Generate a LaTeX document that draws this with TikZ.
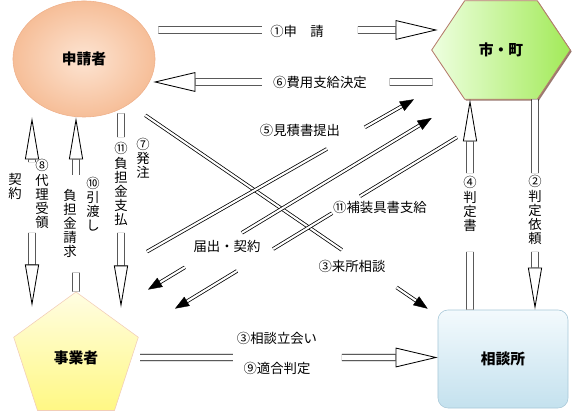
\documentclass[tikz,border=0pt]{standalone}
\usepackage{fontspec}
\setmainfont{Noto Sans CJK JP}
\usetikzlibrary{shapes.geometric,arrows.meta,calc,backgrounds,shadows}
\definecolor{peach}{HTML}{F6BE98}
\definecolor{peachhi}{HTML}{FDE4D2}
\definecolor{peachln}{HTML}{EFB08A}
\definecolor{limehi}{HTML}{EEFFE0}
\definecolor{lime}{HTML}{A2EA58}
\definecolor{limeln}{HTML}{B57C6C}
\definecolor{lemonhi}{HTML}{FFFDE2}
\definecolor{lemon}{HTML}{FFF884}
\definecolor{lemonln}{HTML}{F2CDB8}
\definecolor{skyhi}{HTML}{F3FAFD}
\definecolor{sky}{HTML}{C4E1EE}
\definecolor{skyln}{HTML}{A8C8D8}

\begin{document}
\begin{tikzpicture}[x=0.025cm,y=-0.025cm,
  title/.style={font=\bfseries\fontsize{10.5}{12}\selectfont,inner sep=0pt},
  lab/.style={font=\fontsize{9.5}{10}\selectfont,inner sep=0pt},
  tate/.style={lab,align=center},
  blk/.style={double,double distance=4pt,line width=0.6pt},
  hhead/.style={-{Triangle[open,length=30pt 0 0,width=14pt 0 0,line width=0.6pt 0 0]}},
  vhead/.style={-{Triangle[open,length=30pt 0 0,width=10pt 0 0,line width=0.6pt 0 0]}},
  dbl/.style={double,double distance=1.5pt,line width=0.55pt},
  blackhead/.style={-{Triangle[length=10pt 0 0,width=7.5pt 0 0,line width=0.3pt 0 0]}}]
\useasboundingbox (0,0) rectangle (580,411);
\node[ellipse,minimum width=3.55cm,minimum height=2.9cm,draw=peachln,inner color=peachhi,outer color=peach,title] (sq) at (84,59) {申請者};
\node[minimum width=3.45cm,minimum height=2.45cm,title] (city) at (501,50) {市・町};
\node[regular polygon,regular polygon sides=5,minimum size=3.275cm,draw=lemonln,top color=lemonhi,bottom color=lemon,title] (jg) at (76,357.5) {事業者};
\node[rectangle,rounded corners=0.25cm,minimum width=3.25cm,minimum height=2.45cm,draw=skyln,top color=skyhi,bottom color=sky,title] (sd) at (503,359) {相談所};
\begin{scope}[on background layer]
\shadedraw[draw=limeln,line width=0.6pt,left color=limehi,right color=lime,
  drop shadow={shadow xshift=1pt,shadow yshift=-1pt,fill=limeln!70!black,opacity=.8}]
  (city.west) -- ($(city.north west)+(33,0)$) -- ($(city.north east)+(-33,0)$) -- (city.east)
  -- ($(city.south east)+(-33,0)$) -- ($(city.south west)+(33,0)$) -- cycle;
\end{scope}

\node[lab] (l1) at (297,31) {①申　請};
\node[lab] (l6) at (320,82) {⑥費用支給決定};
\node[tate] (l8) at (42,194) {⑧\\代\\理\\受\\領};
\node[tate] (lk) at (15,186) {契\\約};
\node[tate] (l10) at (93,204) {⑩\\引\\渡\\し};
\node[tate] (lf) at (70,223.5) {負\\担\\金\\請\\求};
\node[tate] (l11) at (121,184) {⑪\\負\\担\\金\\支\\払};
\node[tate] (l7) at (143,158.5) {⑦\\発\\注};
\node[tate] (l4) at (470,204) {④\\判\\定\\書};
\node[tate] (l2) at (535,210) {②\\判\\定\\依\\頼};
\node[lab] (l5) at (300,130) {⑤見積書提出};
\node[lab] (lt) at (227,246) {届出・契約};
\node[lab] (lh) at (380,207) {⑪補装具書支給};
\node[lab] (l3) at (352,266) {③来所相談};
\node[lab] (l3b) at (277,338) {③相談立会い};
\node[lab] (l9) at (277,368) {⑨適合判定};

\coordinate (a1) at ($(sq.east)+(3,-29)$);
\coordinate (b1) at ($(city.west)+(6,-20)$);
\coordinate (a6) at ($(city.west)+(1,32)$);
\coordinate (b6) at ($(sq.east)+(-2,23)$);
\coordinate (a8) at ($(jg.corner 1)+(-44,15)$);
\coordinate (b8) at ($(sq.south)+(-52,0)$);
\coordinate (b10) at (jg.corner 1 |- sq.south);
\coordinate (a11) at ($(sq.south)+(37,-4)$);
\coordinate (b11) at ($(jg.corner 1)+(45,16)$);
\coordinate (a4) at ($(sd.north)+(-33,0)$);
\coordinate (b4) at (a4 |- city.south);
\coordinate (a2) at ($(city.south)+(34,0)$);
\coordinate (b2) at (a2 |- sd.north);
\coordinate (a9) at ($(jg.center)+(64,0)$);
\coordinate (b9) at (sd.west |- a9);
\coordinate (a3) at ($(sq.south -| sq.east)+(-10,-2)$);
\coordinate (b3) at ($(sd.north west)+(-10,-1)$);
\coordinate (a5) at ($(jg.corner 1)+(71,-40)$);
\coordinate (b5) at ($(city.south)+(-87,0)$);
\coordinate (at) at ($(jg.corner 1)+(72,-2)$);
\coordinate (bt) at ($(city.west)+(0,68)$);
\coordinate (ah) at ($(city.south)+(-44,38)$);
\coordinate (bh) at ($(jg.corner 1)+(99,17)$);

\draw[blk] (a1) -- ($(a1)!.371!(b1)$);
\draw[blk,hhead] ($(a1)!.714!(b1)$) -- (b1);
\draw[blk] (a6) -- ($(a6)!.154!(b6)$);
\draw[blk,hhead] ($(a6)!.611!(b6)$) -- (b6);
\draw[blk,vhead] ($(a8)!.389!(b8)$) -- (a8);
\draw[blk,vhead] ($(a8)!.763!(b8)$) -- (b8);
\draw[blk] (jg.corner 1) -- ($(jg.corner 1)!.109!(b10)$);
\draw[blk,vhead] ($(jg.corner 1)!.669!(b10)$) -- (b10);
\draw[blk] (a11) -- ($(a11)!.123!(b11)$);
\draw[blk,vhead] ($(a11)!.615!(b11)$) -- (b11);
\draw[blk] (a4) -- ($(a4)!.275!(b4)$);
\draw[blk,vhead] ($(a4)!.649!(b4)$) -- (b4);
\draw[blk] (a2) -- ($(a2)!.351!(b2)$);
\draw[blk,vhead] ($(a2)!.725!(b2)$) -- (b2);
\draw[blk] (a9) -- ($(a9)!.312!(b9)$);
\draw[blk,hhead] ($(a9)!.678!(b9)$) -- (b9);

\draw[dbl] (a3) -- ($(a3)!.696!(b3)$);
\draw[dbl,blackhead] ($(a3)!.89!(b3)$) -- (b3);
\draw[dbl] (a5) -- ($(a5)!.674!(b5)$);
\draw[dbl,blackhead] ($(a5)!.816!(b5)$) -- (b5);
\draw[dbl,blackhead] ($(at)!.13!(bt)$) -- (at);
\draw[dbl,blackhead] ($(at)!.331!(bt)$) -- (bt);
\draw[dbl] (ah) -- ($(ah)!.344!(bh)$);
\draw[dbl] ($(ah)!.443!(bh)$) -- ($(ah)!.652!(bh)$);
\draw[dbl,blackhead] ($(ah)!.78!(bh)$) -- (bh);
\end{tikzpicture}
\end{document}
